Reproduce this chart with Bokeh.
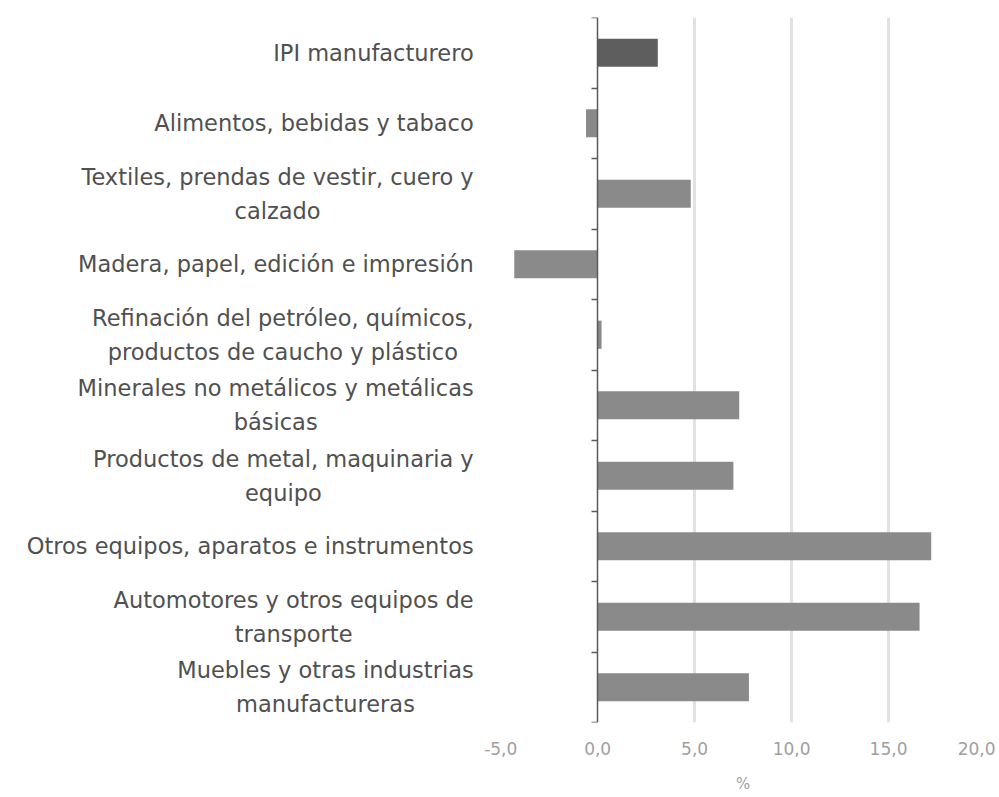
from bokeh.plotting import figure
from bokeh.models import Range1d, FixedTicker, LinearAxis, Label, ColumnDataSource, CustomJSTickFormatter
from bokeh.embed import file_html
from bokeh.resources import INLINE

categories = [
    "IPI manufacturero",
    "Alimentos, bebidas y tabaco",
    "Textiles, prendas de vestir, cuero y\ncalzado",
    "Madera, papel, edición e impresión",
    "Refinación del petróleo, químicos,\nproductos de caucho y plástico",
    "Minerales no metálicos y metálicas\nbásicas",
    "Productos de metal, maquinaria y\nequipo",
    "Otros equipos, aparatos e instrumentos",
    "Automotores y otros equipos de\ntransporte",
    "Muebles y otras industrias\nmanufactureras",
]
values = [3.1, -0.6, 4.8, -4.3, 0.2, 7.3, 7.0, 17.2, 16.6, 7.8]
x_ticks = [-5, 0, 5, 10, 15, 20]
x_tick_labels = ["-5,0", "0,0", "5,0", "10,0", "15,0", "20,0"]
grid_ticks = [5, 10, 15, 20]
x_title = "%"

n = len(categories)
y_pos = [i + 0.5 for i in range(n)]
bar_colors = ["#5e5e5e"] + ["#8a8a8a"] * (n - 1)
src = ColumnDataSource(dict(y=y_pos, v=values, c=bar_colors))

# frame spans the label area too (annotations are clipped to the frame)
p = figure(width=995, height=796, x_range=Range1d(-30.28, 20), y_range=Range1d(n, 0),
           output_backend="svg", toolbar_location=None, y_axis_location=None,
           min_border_left=10, min_border_right=10, min_border_top=17, min_border_bottom=74)
p.outline_line_color = None
p.background_fill_color = "white"
p.border_fill_color = "white"

p.hbar(y="y", left=0, right="v", height=0.4, fill_color="c", line_color=None, source=src)

xa = p.xaxis[0]
xa.ticker = FixedTicker(ticks=x_ticks)
xa.formatter = CustomJSTickFormatter(args=dict(tv=x_ticks, tl=x_tick_labels),
                                     code="const i = tv.indexOf(tick); return i >= 0 ? tl[i] : '';")
xa.axis_line_color = None
xa.major_tick_line_color = None
xa.minor_tick_line_color = None
xa.major_label_standoff = 13
xa.major_label_text_font = "DejaVu Sans"
xa.major_label_text_font_size = "17px"
xa.major_label_text_color = "#a0a0a0"

# axis title centred under the -5..20 part of the axis
xt = LinearAxis(ticker=FixedTicker(ticks=[(x_ticks[0] + x_ticks[-1]) / 2]),
                formatter=CustomJSTickFormatter(args=dict(t=x_title), code="return t;"))
xt.axis_line_color = None
xt.major_tick_line_color = None
xt.minor_tick_line_color = None
xt.major_label_standoff = 11
xt.major_label_text_font = "DejaVu Sans"
xt.major_label_text_font_size = "15px"
xt.major_label_text_color = "#a0a0a0"
p.add_layout(xt, "below")

p.xgrid.ticker = FixedTicker(ticks=grid_ticks)
p.xgrid.grid_line_color = "#e2e2e2"
p.xgrid.grid_line_width = 3
p.ygrid.grid_line_color = None

ya = LinearAxis(fixed_location=0, ticker=FixedTicker(ticks=list(range(n + 1))))
ya.formatter = CustomJSTickFormatter(code="return '';")
ya.major_label_standoff = 0
ya.axis_line_color = "#5a5a5a"
ya.axis_line_width = 1.5
ya.major_tick_line_color = "#5a5a5a"
ya.major_tick_line_width = 1.5
ya.major_tick_in = 0
ya.major_tick_out = 6
ya.minor_tick_line_color = None
p.add_layout(ya, "left")

for yv, cat in zip(y_pos, categories):
    p.add_layout(Label(x=0, y=yv, x_offset=-124, text=cat, anchor="center_right",
                       text_align="center",
                       text_font="DejaVu Sans", text_font_size="22.5px",
                       text_color="#505050", text_line_height=1.3))

open("out.html", "w").write(file_html(p, INLINE))
